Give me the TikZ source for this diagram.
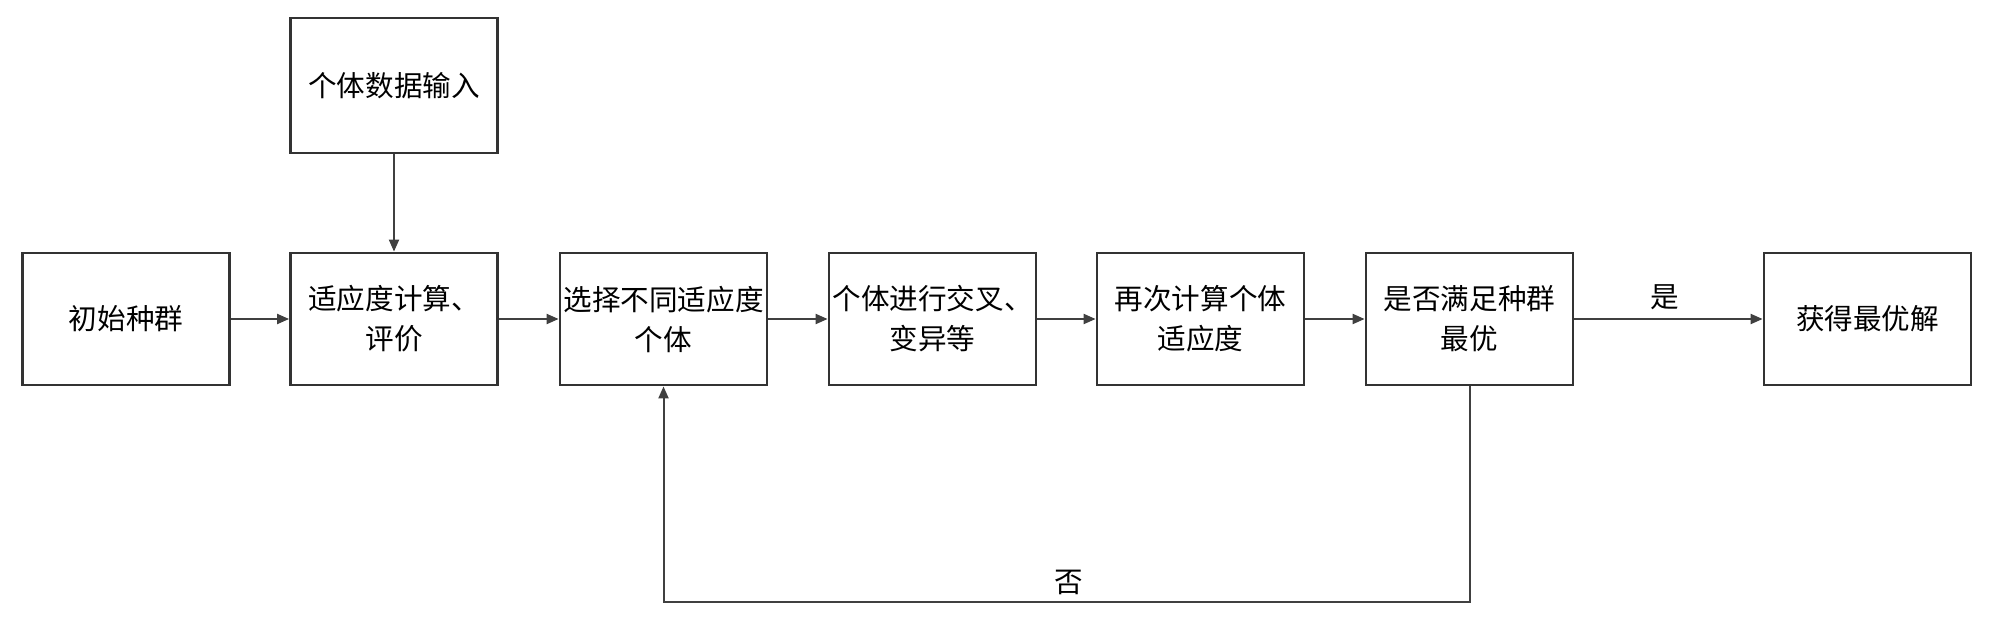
\documentclass[tikz,border=0pt]{standalone}
\usepackage{fontspec}
\setmainfont{Noto Sans CJK SC}
\usetikzlibrary{arrows.meta}
\begin{document}
\begin{tikzpicture}[x=0.5pt,y=-0.5pt,
 box/.style={draw=black!80, line width=1.4pt, minimum width=103.5pt, minimum height=66pt, align=center, inner sep=0pt, font=\fontsize{14.3pt}{20pt}\selectfont},
 lbl/.style={inner sep=0pt, font=\fontsize{14.3pt}{20pt}\selectfont},
 conn/.style={draw=black!75, line width=1pt, -{Triangle[length=6pt,width=5pt]}}]
\useasboundingbox (0,0) rectangle (2000,626);
\node[box, minimum height=67.5pt] (input) at (394,85.5) {个体数据输入};
\node[box] (init) at (126,319) {初始种群};
\node[box] (fit) at (394,319) {适应度计算、\\评价};
\node[box] (sel) at (663.5,319) {选择不同适应度\\个体};
\node[box] (cross) at (932.5,319) {个体进行交叉、\\变异等};
\node[box] (again) at (1200.5,319) {再次计算个体\\适应度};
\node[box] (judge) at (1469.5,319) {是否满足种群\\最优};
\node[box] (best) at (1867.5,319) {获得最优解};
\draw[conn] (input) -- (fit);
\draw[conn] (init) -- (fit);
\draw[conn] (fit) -- (sel);
\draw[conn] (sel) -- (cross);
\draw[conn] (cross) -- (again);
\draw[conn] (again) -- (judge);
\draw[conn] (judge) -- (best);
\draw[conn] (judge.south) -- ++(0,216) -| (sel.south);
\node[lbl] (yes) at (1665,297) {是};
\node[lbl] (no) at (1069,582) {否};
\end{tikzpicture}
\end{document}
